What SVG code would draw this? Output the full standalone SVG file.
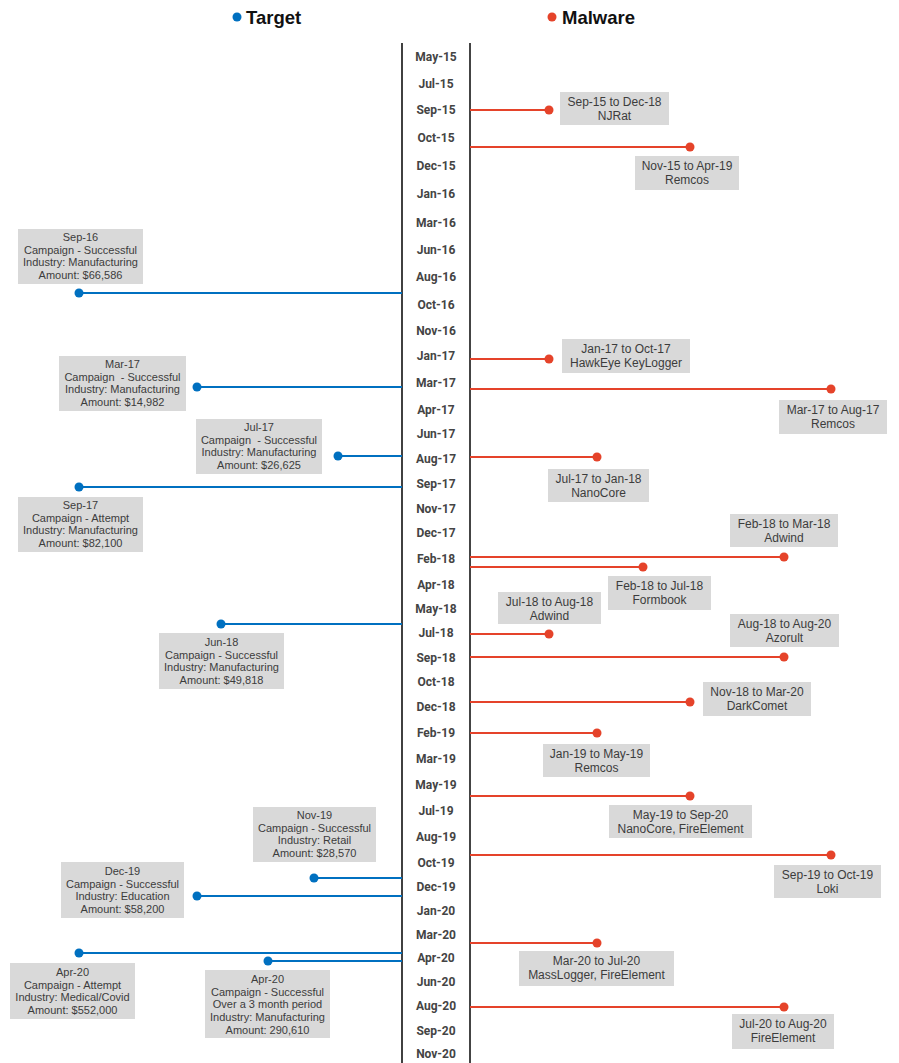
<svg xmlns="http://www.w3.org/2000/svg" width="899" height="1063" viewBox="0 0 899 1063">
<style>
.ax{font-family:Roboto,"Liberation Sans",sans-serif;font-weight:bold;font-size:12px;fill:#444;text-anchor:middle}
.hd{font-family:"Liberation Sans",Arial,sans-serif;font-weight:bold;font-size:18.5px;fill:#111}
.box{fill:#d9d9d9}
.tl{font-family:"Liberation Sans",Arial,sans-serif;font-size:11px;fill:#3c3c3c;text-anchor:middle}
.ml{font-family:"Liberation Sans",Arial,sans-serif;font-size:12px;fill:#3c3c3c;text-anchor:middle}
.pre{white-space:pre}
.bl{stroke:#0070c0;stroke-width:2;fill:none}
.rl{stroke:#e5432a;stroke-width:2;fill:none}
.bd{fill:#0070c0}
.rd{fill:#e5432a}
</style>
<rect width="899" height="1063" fill="#fff"/>
<g id="legend">
<circle class="bd" cx="237" cy="17" r="4.5"/>
<text class="hd" x="246" y="24">Target</text>
<circle class="rd" cx="552" cy="17" r="4.5"/>
<text class="hd" x="562" y="24">Malware</text>
</g>
<g id="axis">
<line x1="402" y1="43" x2="402" y2="1063" stroke="#111" stroke-width="1.6"/>
<line x1="470" y1="43" x2="470" y2="1063" stroke="#444" stroke-width="2"/>
<text class="ax" x="436" y="61">May-15</text>
<text class="ax" x="436" y="88">Jul-15</text>
<text class="ax" x="436" y="114">Sep-15</text>
<text class="ax" x="436" y="142">Oct-15</text>
<text class="ax" x="436" y="170">Dec-15</text>
<text class="ax" x="436" y="198">Jan-16</text>
<text class="ax" x="436" y="227">Mar-16</text>
<text class="ax" x="436" y="254">Jun-16</text>
<text class="ax" x="436" y="281">Aug-16</text>
<text class="ax" x="436" y="309">Oct-16</text>
<text class="ax" x="436" y="335">Nov-16</text>
<text class="ax" x="436" y="360">Jan-17</text>
<text class="ax" x="436" y="387">Mar-17</text>
<text class="ax" x="436" y="414">Apr-17</text>
<text class="ax" x="436" y="438">Jun-17</text>
<text class="ax" x="436" y="463">Aug-17</text>
<text class="ax" x="436" y="488">Sep-17</text>
<text class="ax" x="436" y="513">Nov-17</text>
<text class="ax" x="436" y="537">Dec-17</text>
<text class="ax" x="436" y="563">Feb-18</text>
<text class="ax" x="436" y="589">Apr-18</text>
<text class="ax" x="436" y="613">May-18</text>
<text class="ax" x="436" y="637">Jul-18</text>
<text class="ax" x="436" y="662">Sep-18</text>
<text class="ax" x="436" y="686">Oct-18</text>
<text class="ax" x="436" y="711">Dec-18</text>
<text class="ax" x="436" y="737">Feb-19</text>
<text class="ax" x="436" y="763">Mar-19</text>
<text class="ax" x="436" y="789">May-19</text>
<text class="ax" x="436" y="815">Jul-19</text>
<text class="ax" x="436" y="841">Aug-19</text>
<text class="ax" x="436" y="867">Oct-19</text>
<text class="ax" x="436" y="891">Dec-19</text>
<text class="ax" x="436" y="915">Jan-20</text>
<text class="ax" x="436" y="939">Mar-20</text>
<text class="ax" x="436" y="962">Apr-20</text>
<text class="ax" x="436" y="986">Jun-20</text>
<text class="ax" x="436" y="1010">Aug-20</text>
<text class="ax" x="436" y="1035">Sep-20</text>
<text class="ax" x="436" y="1058">Nov-20</text>
</g>
<g id="connectors">
<line class="bl" x1="79" y1="293" x2="402" y2="293"/>
<line class="bl" x1="197" y1="387" x2="402" y2="387"/>
<line class="bl" x1="338" y1="456" x2="402" y2="456"/>
<line class="bl" x1="79" y1="487" x2="402" y2="487"/>
<line class="bl" x1="221" y1="624" x2="402" y2="624"/>
<line class="bl" x1="314" y1="878" x2="402" y2="878"/>
<line class="bl" x1="197" y1="896" x2="402" y2="896"/>
<line class="bl" x1="79" y1="953" x2="402" y2="953"/>
<line class="bl" x1="268" y1="961" x2="402" y2="961"/>
<line class="rl" x1="470" y1="110" x2="549" y2="110"/>
<line class="rl" x1="470" y1="147" x2="690" y2="147"/>
<line class="rl" x1="470" y1="359" x2="549" y2="359"/>
<line class="rl" x1="470" y1="389" x2="831" y2="389"/>
<line class="rl" x1="470" y1="457" x2="597" y2="457"/>
<line class="rl" x1="470" y1="557" x2="784" y2="557"/>
<line class="rl" x1="470" y1="567" x2="643" y2="567"/>
<line class="rl" x1="470" y1="634" x2="549" y2="634"/>
<line class="rl" x1="470" y1="657" x2="784" y2="657"/>
<line class="rl" x1="470" y1="702" x2="690" y2="702"/>
<line class="rl" x1="470" y1="733" x2="597" y2="733"/>
<line class="rl" x1="470" y1="796" x2="690" y2="796"/>
<line class="rl" x1="470" y1="855" x2="831" y2="855"/>
<line class="rl" x1="470" y1="943" x2="597" y2="943"/>
<line class="rl" x1="470" y1="1007" x2="784" y2="1007"/>
</g>
<g id="t-sep16"><circle class="bd" cx="79" cy="293" r="4.5"/><rect class="box" x="18" y="229" width="125" height="55"/><text class="tl" x="80.5" y="241">Sep-16<tspan x="80.5" dy="12.7">Campaign - Successful</tspan><tspan x="80.5" dy="12.7">Industry: Manufacturing</tspan><tspan x="80.5" dy="12.7">Amount: $66,586</tspan></text></g>
<g id="t-mar17"><circle class="bd" cx="197" cy="387" r="4.5"/><rect class="box" x="59" y="356" width="127" height="55"/><text class="tl pre" x="122.5" y="368">Mar-17<tspan x="122.5" dy="12.7">Campaign  - Successful</tspan><tspan x="122.5" dy="12.7">Industry: Manufacturing</tspan><tspan x="122.5" dy="12.7">Amount: $14,982</tspan></text></g>
<g id="t-jul17"><circle class="bd" cx="338" cy="456" r="4.5"/><rect class="box" x="196" y="419" width="126" height="55"/><text class="tl pre" x="259" y="431">Jul-17<tspan x="259" dy="12.7">Campaign  - Successful</tspan><tspan x="259" dy="12.7">Industry: Manufacturing</tspan><tspan x="259" dy="12.7">Amount: $26,625</tspan></text></g>
<g id="t-sep17"><circle class="bd" cx="79" cy="487" r="4.5"/><rect class="box" x="18" y="497" width="125" height="55"/><text class="tl" x="80.5" y="509">Sep-17<tspan x="80.5" dy="12.7">Campaign - Attempt</tspan><tspan x="80.5" dy="12.7">Industry: Manufacturing</tspan><tspan x="80.5" dy="12.7">Amount: $82,100</tspan></text></g>
<g id="t-jun18"><circle class="bd" cx="221" cy="624" r="4.5"/><rect class="box" x="159" y="633" width="125" height="56"/><text class="tl" x="221.5" y="646">Jun-18<tspan x="221.5" dy="12.7">Campaign - Successful</tspan><tspan x="221.5" dy="12.7">Industry: Manufacturing</tspan><tspan x="221.5" dy="12.7">Amount: $49,818</tspan></text></g>
<g id="t-nov19"><circle class="bd" cx="314" cy="878" r="4.5"/><rect class="box" x="253" y="807" width="123" height="55"/><text class="tl" x="314.5" y="819">Nov-19<tspan x="314.5" dy="12.7">Campaign - Successful</tspan><tspan x="314.5" dy="12.7">Industry: Retail</tspan><tspan x="314.5" dy="12.7">Amount: $28,570</tspan></text></g>
<g id="t-dec19"><circle class="bd" cx="197" cy="896" r="4.5"/><rect class="box" x="61" y="862" width="123" height="56"/><text class="tl" x="122.5" y="875">Dec-19<tspan x="122.5" dy="12.7">Campaign - Successful</tspan><tspan x="122.5" dy="12.7">Industry: Education</tspan><tspan x="122.5" dy="12.7">Amount: $58,200</tspan></text></g>
<g id="t-apr20a"><circle class="bd" cx="79" cy="953" r="4.5"/><rect class="box" x="10" y="963" width="125" height="56"/><text class="tl" x="72.5" y="976">Apr-20<tspan x="72.5" dy="12.7">Campaign - Attempt</tspan><tspan x="72.5" dy="12.7">Industry: Medical/Covid</tspan><tspan x="72.5" dy="12.7">Amount: $552,000</tspan></text></g>
<g id="t-apr20b"><circle class="bd" cx="268" cy="961" r="4.5"/><rect class="box" x="205" y="970" width="125" height="68"/><text class="tl" x="267.5" y="983">Apr-20<tspan x="267.5" dy="12.7">Campaign - Successful</tspan><tspan x="267.5" dy="12.7">Over a 3 month period</tspan><tspan x="267.5" dy="12.7">Industry: Manufacturing</tspan><tspan x="267.5" dy="12.7">Amount: 290,610</tspan></text></g>
<g id="m-njrat"><circle class="rd" cx="549" cy="110" r="4.5"/><rect class="box" x="560" y="92" width="109" height="33"/><text class="ml" x="614.5" y="106">Sep-15 to Dec-18<tspan x="614.5" dy="14.4">NJRat</tspan></text></g>
<g id="m-remcos1"><circle class="rd" cx="690" cy="147" r="4.5"/><rect class="box" x="635" y="156" width="104" height="34"/><text class="ml" x="687" y="170">Nov-15 to Apr-19<tspan x="687" dy="14.4">Remcos</tspan></text></g>
<g id="m-hawkeye"><circle class="rd" cx="549" cy="359" r="4.5"/><rect class="box" x="562" y="339" width="128" height="34"/><text class="ml" x="626" y="353">Jan-17 to Oct-17<tspan x="626" dy="14.4">HawkEye KeyLogger</tspan></text></g>
<g id="m-remcos2"><circle class="rd" cx="831" cy="389" r="4.5"/><rect class="box" x="779" y="400" width="108" height="34"/><text class="ml" x="833" y="414">Mar-17 to Aug-17<tspan x="833" dy="14.4">Remcos</tspan></text></g>
<g id="m-nanocore1"><circle class="rd" cx="597" cy="457" r="4.5"/><rect class="box" x="548" y="469" width="101" height="33"/><text class="ml" x="598.5" y="483">Jul-17 to Jan-18<tspan x="598.5" dy="14.4">NanoCore</tspan></text></g>
<g id="m-adwind1"><circle class="rd" cx="784" cy="557" r="4.5"/><rect class="box" x="730" y="514" width="108" height="33"/><text class="ml" x="784" y="528">Feb-18 to Mar-18<tspan x="784" dy="14.4">Adwind</tspan></text></g>
<g id="m-formbook"><circle class="rd" cx="643" cy="567" r="4.5"/><rect class="box" x="608" y="576" width="103" height="34"/><text class="ml" x="659.5" y="590">Feb-18 to Jul-18<tspan x="659.5" dy="14.4">Formbook</tspan></text></g>
<g id="m-adwind2"><circle class="rd" cx="549" cy="634" r="4.5"/><rect class="box" x="498" y="592" width="103" height="32"/><text class="ml" x="549.5" y="606">Jul-18 to Aug-18<tspan x="549.5" dy="14.4">Adwind</tspan></text></g>
<g id="m-azorult"><circle class="rd" cx="784" cy="657" r="4.5"/><rect class="box" x="730" y="614" width="109" height="33"/><text class="ml" x="784.5" y="628">Aug-18 to Aug-20<tspan x="784.5" dy="14.4">Azorult</tspan></text></g>
<g id="m-darkcomet"><circle class="rd" cx="690" cy="702" r="4.5"/><rect class="box" x="703" y="682" width="108" height="34"/><text class="ml" x="757" y="696">Nov-18 to Mar-20<tspan x="757" dy="14.4">DarkComet</tspan></text></g>
<g id="m-remcos3"><circle class="rd" cx="597" cy="733" r="4.5"/><rect class="box" x="543" y="744" width="107" height="33"/><text class="ml" x="596.5" y="758">Jan-19 to May-19<tspan x="596.5" dy="14.4">Remcos</tspan></text></g>
<g id="m-nanocore2"><circle class="rd" cx="690" cy="796" r="4.5"/><rect class="box" x="609" y="805" width="143" height="33"/><text class="ml" x="680.5" y="819">May-19 to Sep-20<tspan x="680.5" dy="14.4">NanoCore, FireElement</tspan></text></g>
<g id="m-loki"><circle class="rd" cx="831" cy="855" r="4.5"/><rect class="box" x="774" y="865" width="107" height="33"/><text class="ml" x="827.5" y="879">Sep-19 to Oct-19<tspan x="827.5" dy="14.4">Loki</tspan></text></g>
<g id="m-masslogger"><circle class="rd" cx="597" cy="943" r="4.5"/><rect class="box" x="519" y="951" width="155" height="35"/><text class="ml" x="596.5" y="965">Mar-20 to Jul-20<tspan x="596.5" dy="14.4">MassLogger, FireElement</tspan></text></g>
<g id="m-fireelement"><circle class="rd" cx="784" cy="1007" r="4.5"/><rect class="box" x="732" y="1014" width="102" height="35"/><text class="ml" x="783" y="1028">Jul-20 to Aug-20<tspan x="783" dy="14.4">FireElement</tspan></text></g>
</svg>
